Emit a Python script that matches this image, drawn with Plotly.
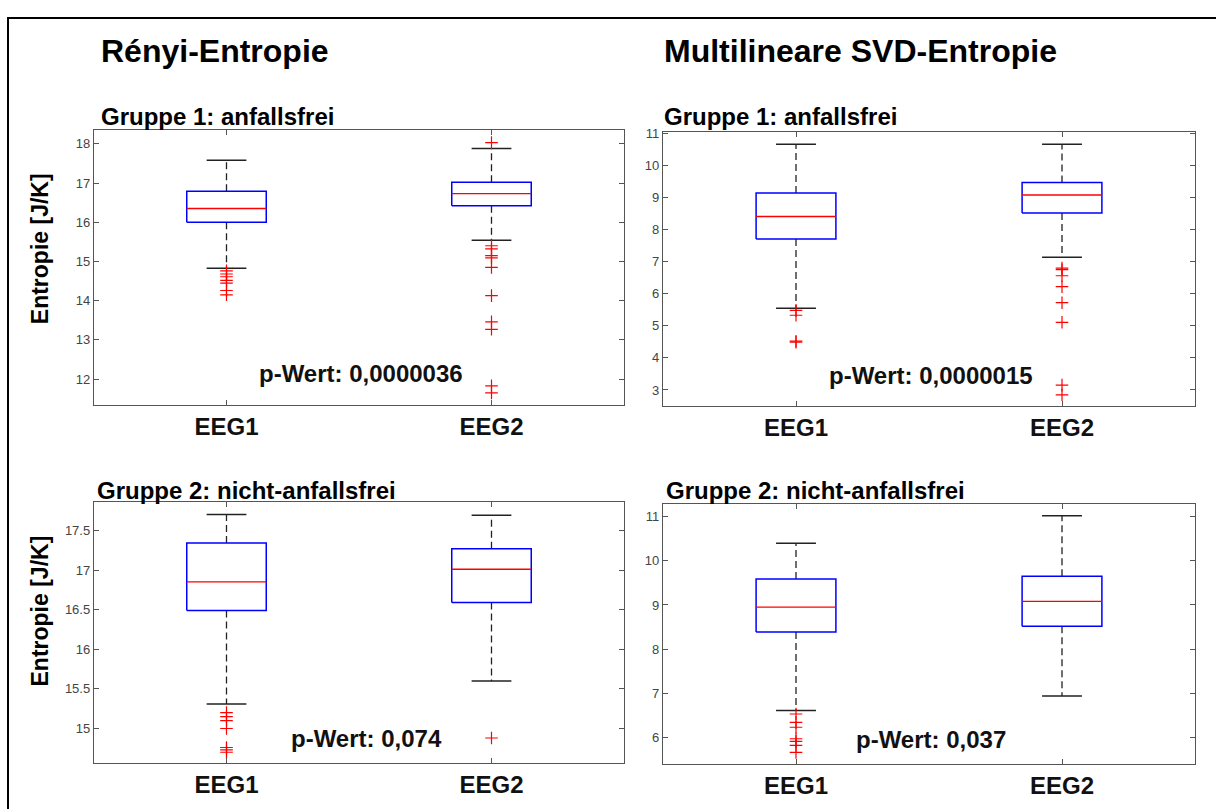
import plotly.graph_objects as go

W, H = 1216, 809

# ---------------- data ----------------
GROUPS = ["EEG1", "EEG2"]
POS = [1, 2]

# Rényi-Entropie, Gruppe 1
R1_LO = [14.83, 15.54]
R1_Q1 = [16.00, 16.42]
R1_MED = [16.35, 16.73]
R1_Q3 = [16.79, 17.02]
R1_HI = [17.58, 17.88]
R1_OUT = [[14.76, 14.68, 14.61, 14.52, 14.45, 14.26, 14.15],
          [18.03, 15.40, 15.32, 15.15, 15.09, 14.85, 14.13, 13.46, 13.27, 11.83, 11.65]]

# Multilineare SVD-Entropie, Gruppe 1
S1_LO = [5.55, 7.14]
S1_Q1 = [7.71, 8.52]
S1_MED = [8.41, 9.08]
S1_Q3 = [9.14, 9.47]
S1_HI = [10.66, 10.66]
S1_OUT = [[5.48, 5.33, 4.52, 4.49],
          [6.80, 6.75, 6.56, 6.22, 5.72, 5.11, 3.15, 2.85]]

# Rényi-Entropie, Gruppe 2
R2_LO = [15.31, 15.60]
R2_Q1 = [16.49, 16.59]
R2_MED = [16.85, 17.01]
R2_Q3 = [17.34, 17.27]
R2_HI = [17.70, 17.69]
R2_OUT = [[15.20, 15.15, 15.10, 15.00, 14.76, 14.73, 14.70],
          [14.88]]

# Multilineare SVD-Entropie, Gruppe 2
S2_LO = [6.61, 6.94]
S2_Q1 = [8.39, 8.52]
S2_MED = [8.95, 9.08]
S2_Q3 = [9.59, 9.65]
S2_HI = [10.40, 11.02]
S2_OUT = [[6.53, 6.34, 6.23, 5.97, 5.91, 5.82, 5.66],
          []]

P_VALUES = ["p-Wert: 0,0000036", "p-Wert: 0,0000015", "p-Wert: 0,074", "p-Wert: 0,037"]
SUBTITLES = ["Gruppe 1: anfallsfrei", "Gruppe 1: anfallsfrei",
             "Gruppe 2: nicht-anfallsfrei", "Gruppe 2: nicht-anfallsfrei"]
MAIN_TITLES = ["Rényi-Entropie", "Multilineare SVD-Entropie"]
YLABEL = "Entropie [J/K]"

Y_RANGES = [[11.34, 18.35], [2.50, 11.04], [14.56, 17.855], [5.39, 11.28]]
Y_TICKS = [[12, 13, 14, 15, 16, 17, 18],
           [3, 4, 5, 6, 7, 8, 9, 10, 11],
           [15, 15.5, 16, 16.5, 17, 17.5],
           [6, 7, 8, 9, 10, 11]]

# ---------------- layout helpers ----------------
FONT = "Liberation Sans, Arial, sans-serif"
BOX_W = 0.30
CAP_W = 0.15


def px(x):
    return x / W


def py(y):
    return 1 - y / H


# panel pixel boxes: (left, right, top, bottom)
PANELS = [(94, 624, 125, 402), (663, 1195, 127, 403),
          (94, 624, 500, 763), (663, 1195, 502, 764)]

panel_data = [
    (R1_LO, R1_Q1, R1_MED, R1_Q3, R1_HI, R1_OUT),
    (S1_LO, S1_Q1, S1_MED, S1_Q3, S1_HI, S1_OUT),
    (R2_LO, R2_Q1, R2_MED, R2_Q3, R2_HI, R2_OUT),
    (S2_LO, S2_Q1, S2_MED, S2_Q3, S2_HI, S2_OUT),
]

fig = go.Figure()

for i, (lo, q1, med, q3, hi, out) in enumerate(panel_data):
    xa = "x" if i == 0 else f"x{i+1}"
    ya = "y" if i == 0 else f"y{i+1}"
    for g, p in enumerate(POS):
        # whiskers (dashed)
        fig.add_trace(go.Scatter(
            x=[p, p, None, p, p], y=[q3[g], hi[g], None, q1[g], lo[g]],
            mode="lines", line=dict(color="#222222", width=1.3, dash="7px,4px"),
            xaxis=xa, yaxis=ya, hoverinfo="skip", showlegend=False))
        # caps
        fig.add_trace(go.Scatter(
            x=[p - CAP_W / 2, p + CAP_W / 2, None, p - CAP_W / 2, p + CAP_W / 2],
            y=[hi[g], hi[g], None, lo[g], lo[g]],
            mode="lines", line=dict(color="#222222", width=1.5),
            xaxis=xa, yaxis=ya, hoverinfo="skip", showlegend=False))
        # box
        fig.add_trace(go.Scatter(
            x=[p - BOX_W / 2, p + BOX_W / 2, p + BOX_W / 2, p - BOX_W / 2, p - BOX_W / 2],
            y=[q1[g], q1[g], q3[g], q3[g], q1[g]],
            mode="lines", line=dict(color="#0000ff", width=1.5),
            xaxis=xa, yaxis=ya, hoverinfo="skip", showlegend=False))
        # median
        fig.add_trace(go.Scatter(
            x=[p - BOX_W / 2, p + BOX_W / 2], y=[med[g], med[g]],
            mode="lines", line=dict(color="#ff0000", width=1.4),
            xaxis=xa, yaxis=ya, hoverinfo="skip", showlegend=False))
        # outliers
        if out[g]:
            fig.add_trace(go.Scatter(
                x=[p] * len(out[g]), y=out[g], mode="markers",
                marker=dict(symbol="cross-thin", size=9,
                            line=dict(color="#ff0000", width=1.2)),
                xaxis=xa, yaxis=ya, hoverinfo="skip", showlegend=False))

layout = dict(
    width=W, height=H, autosize=False,
    margin=dict(l=0, r=0, t=0, b=0),
    paper_bgcolor="white", plot_bgcolor="white",
    font=dict(family=FONT, color="#111111"),
    showlegend=False,
)

for i, (l, r, t, b) in enumerate(PANELS):
    sfx = "" if i == 0 else str(i + 1)
    layout["xaxis" + sfx] = dict(
        domain=[px(l), px(r)], range=[0.5, 2.5], anchor="y" + sfx,
        tickvals=POS, ticktext=GROUPS,
        tickfont=dict(size=24, family=FONT, color="#111111", weight="bold"),
        ticks="inside", ticklen=5, tickcolor="#555555", tickwidth=1.3,
        showline=True, linecolor="#555555", linewidth=1.4, mirror="ticks",
        showgrid=False, zeroline=False, fixedrange=True,
    )
    layout["yaxis" + sfx] = dict(
        domain=[py(b), py(t)], range=Y_RANGES[i], anchor="x" + sfx,
        tickvals=Y_TICKS[i],
        tickfont=dict(size=13, family=FONT, color="#444444"),
        ticks="inside", ticklen=5, tickcolor="#555555", tickwidth=1.3,
        showline=True, linecolor="#555555", linewidth=1.4, mirror="ticks",
        showgrid=False, zeroline=False, fixedrange=True,
    )

fig.update_layout(**layout)

annotations = []
# main titles
for txt, x in zip(MAIN_TITLES, [99, 662]):
    annotations.append(dict(text=txt, x=px(x), y=py(45), xref="paper", yref="paper",
                            xanchor="left", yanchor="middle", showarrow=False,
                            font=dict(size=32, family=FONT, color="#000000", weight="bold")))
# subtitles
for txt, (x, y) in zip(SUBTITLES, [(99, 111), (662, 111), (95, 488), (664, 488)]):
    annotations.append(dict(text=txt, x=px(x), y=py(y), xref="paper", yref="paper",
                            xanchor="left", yanchor="middle", showarrow=False,
                            font=dict(size=24, family=FONT, color="#000000", weight="bold")))
# y labels
for y in [245, 610]:
    annotations.append(dict(text=YLABEL, x=px(40), y=py(y), xref="paper", yref="paper",
                            xanchor="center", yanchor="middle", textangle=-90, showarrow=False,
                            font=dict(size=23, family=FONT, color="#000000", weight="bold")))
# p-values
for txt, (x, y) in zip(P_VALUES, [(257, 370), (827, 372), (289, 738), (854, 739)]):
    annotations.append(dict(text=txt, x=px(x), y=py(y), xref="paper", yref="paper",
                            xanchor="left", yanchor="middle", showarrow=False,
                            font=dict(size=24, family=FONT, color="#111111", weight="bold")))

fig.update_layout(annotations=annotations)

# outer frame (left & top edges visible)
fig.add_shape(type="rect", xref="paper", yref="paper",
              x0=px(8), x1=1.05, y0=-0.05, y1=py(12),
              line=dict(color="#000000", width=2))

# pin the figure to the top-left corner of the page (no body margin)
POST = ("document.body.style.margin='0';document.body.style.overflow='hidden';"
        "var gd=document.getElementById('{plot_id}');"
        "gd.style.position='fixed';gd.style.left='0px';gd.style.top='0px';")

fig.write_html("out.html", post_script=POST, config={"displayModeBar": False})
